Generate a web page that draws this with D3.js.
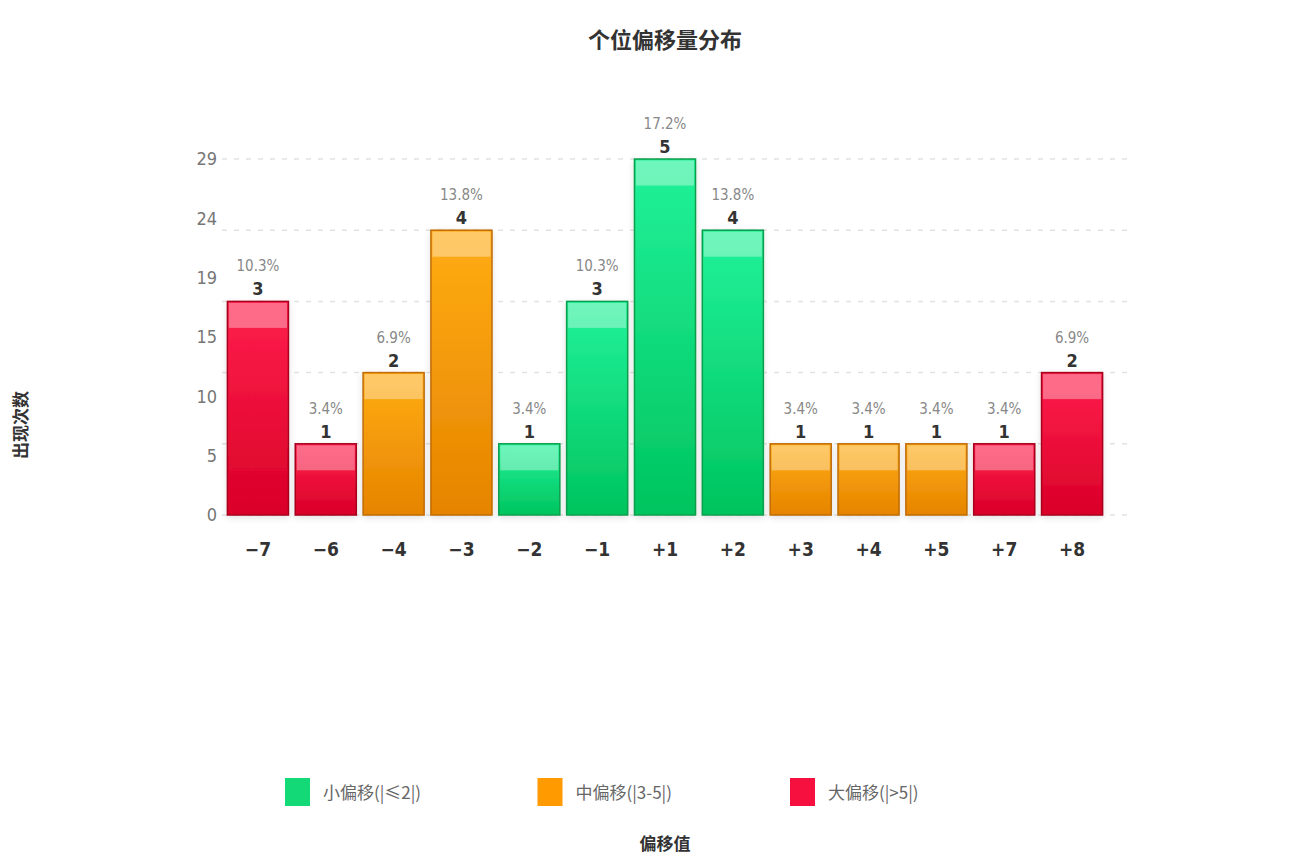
<!DOCTYPE html>
<html>
<head>
<meta charset="utf-8">
<script src="https://cdn.jsdelivr.net/npm/d3@7/dist/d3.min.js"></script>
<style>
  html, body { margin: 0; padding: 0; background: #fff; }
  svg { display: block; font-family: "DejaVu Sans", "Noto Sans CJK SC", sans-serif; font-stretch: condensed; }
  .cjk { font-family: "Noto Sans CJK SC", sans-serif; font-stretch: normal; }
</style>
</head>
<body>
<svg id="chart" width="1313" height="856"></svg>
<script>
// 数据
const categories = ["-7", "-6", "-4", "-3", "-2", "-1", "+1", "+2", "+3", "+4", "+5", "+7", "+8"];
const counts = [3, 1, 2, 4, 1, 3, 5, 4, 1, 1, 1, 1, 2];
const yTickLabels = [0, 5, 10, 15, 19, 24, 29];
const groups = ["small", "mid", "large"];
const groupLabels = ["小偏移(|≤2|)", "中偏移(|3-5|)", "大偏移(|>5|)"];

const palette = {
  small: { top: "#22f29a", bottom: "#00c45e", stroke: "#0a9e4c", swatch: "#14d977" },
  mid:   { top: "#ffad14", bottom: "#e68400", stroke: "#c06c08", swatch: "#ff9a00" },
  large: { top: "#ff1f4c", bottom: "#d90028", stroke: "#a8001e", swatch: "#f5103f" }
};

const total = d3.sum(counts);
const groupOf = (c) => {
  const a = Math.abs(+c);
  return a <= 2 ? "small" : a <= 5 ? "mid" : "large";
};
const data = categories.map((c, i) => ({ cat: c, count: counts[i], group: groupOf(c) }));

const svg = d3.select("#chart");
const defs = svg.append("defs");

// 渐变
for (const g of groups) {
  const grad = defs.append("linearGradient")
    .attr("id", "grad-" + g)
    .attr("x1", 0).attr("y1", 0).attr("x2", 0).attr("y2", 1);
  grad.append("stop").attr("offset", "0%").attr("stop-color", palette[g].top);
  grad.append("stop").attr("offset", "100%").attr("stop-color", palette[g].bottom);
}

defs.append("filter")
  .attr("id", "bar-shadow")
  .attr("x", "-20%").attr("y", "-20%").attr("width", "140%").attr("height", "140%")
  .append("feDropShadow")
  .attr("dx", 0).attr("dy", 2).attr("stdDeviation", 3)
  .attr("flood-color", "#000").attr("flood-opacity", 0.12);

// 比例尺
const x = d3.scaleBand()
  .domain(categories)
  .range([224, 1106])
  .paddingInner(0.1)
  .paddingOuter(0.05);

const y = d3.scaleLinear().domain([0, d3.max(counts)]).range([515, 159]);
const yLabel = d3.scaleLinear().domain([0, yTickLabels.length - 1]).range([515, 159]);

// 网格线
svg.append("g")
  .selectAll("line")
  .data(d3.range(0, d3.max(counts) + 1))
  .enter()
  .append("line")
  .attr("x1", 222).attr("x2", 1132)
  .attr("y1", d => y(d)).attr("y2", d => y(d))
  .attr("stroke", "#e2e2e2")
  .attr("stroke-width", 1.5)
  .attr("stroke-dasharray", "5,7");

// Y轴标签
svg.append("g")
  .selectAll("text")
  .data(yTickLabels)
  .enter()
  .append("text")
  .attr("x", 217)
  .attr("y", (d, i) => yLabel(i))
  .attr("dy", "0.36em")
  .attr("text-anchor", "end")
  .attr("fill", "#777")
  .attr("font-size", 18)
  .text(d => d);

// 柱
const bars = svg.append("g")
  .selectAll("g.bar")
  .data(data)
  .enter()
  .append("g")
  .attr("class", "bar");

bars.append("rect")
  .attr("x", d => x(d.cat))
  .attr("y", d => y(d.count))
  .attr("width", x.bandwidth())
  .attr("height", d => y(0) - y(d.count))
  .attr("fill", d => `url(#grad-${d.group})`)
  .attr("stroke", d => palette[d.group].stroke)
  .attr("stroke-width", 1.5)
  .attr("filter", "url(#bar-shadow)");

// 顶部高光
bars.append("rect")
  .attr("x", d => x(d.cat) + 1.5)
  .attr("y", d => y(d.count) + 1.5)
  .attr("width", x.bandwidth() - 3)
  .attr("height", 25)
  .attr("fill", "#fff")
  .attr("opacity", 0.35);

// 数值
bars.append("text")
  .attr("x", d => x(d.cat) + x.bandwidth() / 2)
  .attr("y", d => y(d.count) - 6)
  .attr("text-anchor", "middle")
  .attr("font-size", 18)
  .attr("font-weight", "bold")
  .attr("fill", "#333")
  .text(d => d.count);

bars.append("text")
  .attr("x", d => x(d.cat) + x.bandwidth() / 2)
  .attr("y", d => y(d.count) - 30)
  .attr("text-anchor", "middle")
  .attr("font-size", 15)
  .attr("fill", "#888")
  .text(d => (d.count / total * 100).toFixed(1) + "%");

// X轴标签
svg.append("g")
  .selectAll("text")
  .data(categories)
  .enter()
  .append("text")
  .attr("x", d => x(d) + x.bandwidth() / 2)
  .attr("y", 556)
  .attr("text-anchor", "middle")
  .attr("font-size", 19)
  .attr("font-weight", "bold")
  .attr("fill", "#333")
  .text(d => d.replace("-", "\u2212"));

// 标题
svg.append("text")
  .attr("class", "cjk")
  .attr("x", 665).attr("y", 48)
  .attr("text-anchor", "middle")
  .attr("font-size", 22)
  .attr("font-weight", "bold")
  .attr("fill", "#333")
  .text("个位偏移量分布");

svg.append("text")
  .attr("class", "cjk")
  .attr("transform", "translate(27,425) rotate(-90)")
  .attr("text-anchor", "middle")
  .attr("font-size", 17)
  .attr("font-weight", "bold")
  .attr("fill", "#333")
  .text("出现次数");

svg.append("text")
  .attr("class", "cjk")
  .attr("x", 665).attr("y", 850)
  .attr("text-anchor", "middle")
  .attr("font-size", 17)
  .attr("font-weight", "bold")
  .attr("fill", "#333")
  .text("偏移值");

// 图例
const legendX = d3.scalePoint().domain(groups).range([285, 790]);
const legend = svg.append("g")
  .selectAll("g")
  .data(groups)
  .enter()
  .append("g")
  .attr("transform", d => `translate(${legendX(d)},778)`);

legend.append("rect")
  .attr("width", 25).attr("height", 28)
  .attr("fill", d => palette[d].swatch);

legend.append("text")
  .attr("class", "cjk")
  .attr("x", 38).attr("y", 15)
  .attr("dy", "0.36em")
  .attr("font-size", 17)
  .attr("fill", "#666")
  .text((d, i) => groupLabels[i]);
</script>
</body>
</html>
